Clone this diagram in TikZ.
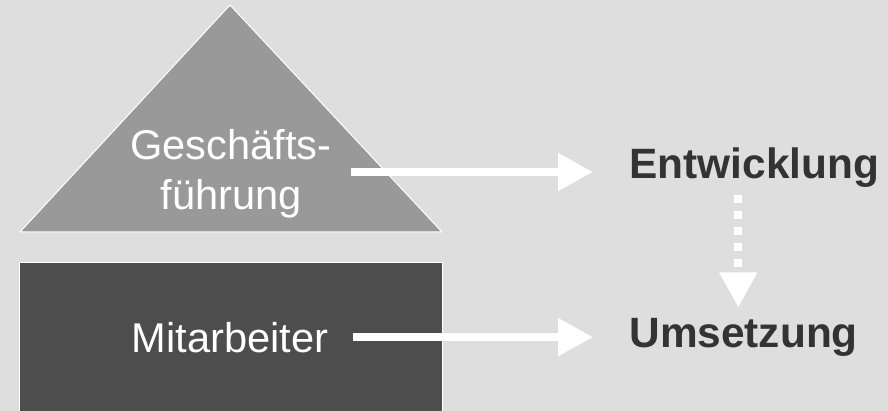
\documentclass[tikz,border=0pt]{standalone}
\usepackage{fontspec}
\setmainfont{Liberation Sans}
\usetikzlibrary{arrows.meta}
\definecolor{bggrey}{HTML}{DEDEDE}
\definecolor{topgrey}{HTML}{999999}
\definecolor{basegrey}{HTML}{4D4D4D}
\definecolor{darktext}{HTML}{333333}

\begin{document}
\begin{tikzpicture}[x=0.5pt,y=-0.5pt,
    flow/.style={white,line width=4pt,-{Triangle[length=17.5pt,width=18pt]}},
    inlbl/.style={text=white,font=\fontsize{20.8}{25}\selectfont,inner sep=0pt},
    outlbl/.style={text=darktext,font=\fontsize{21.2}{25}\selectfont\bfseries,inner sep=0pt,anchor=base west}]
\useasboundingbox (0,0) rectangle (888,411);
\fill[bggrey] (0,0) rectangle (888,411);
% Pyramide und Basis
\draw[white,fill=topgrey,line width=0.5pt] (230,5) -- (442,232) -- (20,232) -- cycle;
\draw[white,fill=basegrey,line width=0.5pt] (19,262) rectangle (442,430);
\node[inlbl,align=center] (gf) at (231,174) {Geschäfts-\\führung};
\node[inlbl,anchor=base] (mit) at (230,352) {Mitarbeiter};
\node[outlbl] (ent) at (629,179) {Entwicklung};
\node[outlbl] (ums) at (629,347) {Umsetzung};
% Pfeile
\draw[flow,shorten <=9.5pt,shorten >=18pt] ([yshift=1pt]gf.east) -- ([yshift=1pt]gf.east -| ent.west);
\draw[flow,shorten <=12pt,shorten >=18pt] (mit.east) -- (mit.east -| ums.west);
\draw[flow,dash pattern=on 3.75pt off 4.25pt,shorten <=3.5pt,shorten >=5pt]
  ([xshift=-8pt]ent.south) -- ([xshift=-8pt]ent.south |- ums.north);
\end{tikzpicture}
\end{document}
